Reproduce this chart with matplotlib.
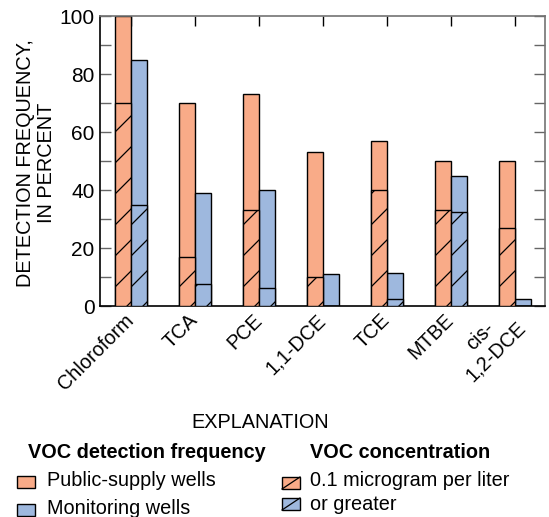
import numpy as np
import matplotlib
matplotlib.use('Agg')
import matplotlib.pyplot as plt
from matplotlib.patches import Rectangle
from matplotlib.lines import Line2D

plt.rcParams['font.family'] = ['Liberation Sans', 'DejaVu Sans']

compounds = ['Chloroform', 'TCA', 'PCE', '1,1-DCE', 'TCE', 'MTBE', 'cis-\n1,2-DCE']
# detection frequency, percent (all detections)
public_all = [100, 70, 73, 53, 57, 50, 50]
monitor_all = [85, 39, 40, 11, 11.3, 45, 2.5]
# detections at 0.1 microgram per liter or greater
public_hi = [70, 17, 33, 10, 40, 33, 27]
monitor_hi = [35, 7.5, 6.2, 0, 2.5, 32.5, 0]

orange = '#f9ab88'
blue = '#9eb8de'
W, H = 549, 517
fs = 14.3

fig = plt.figure(figsize=(W / 100, H / 100), dpi=100)
ax = fig.add_axes([100 / W, 1 - 306 / H, 445 / W, 290 / H])

x = np.arange(len(compounds))
bw = 0.25
xlim = (-0.485, 6.47)
ylim = (0, 100)
ax.set_xlim(*xlim)
ax.set_ylim(*ylim)

ax.bar(x - bw / 2, public_all, bw, color=orange, edgecolor='black', linewidth=1, zorder=2)
ax.bar(x + bw / 2, monitor_all, bw, color=blue, edgecolor='black', linewidth=1, zorder=2)
hp = ax.bar(x - bw / 2, public_hi, bw, color=orange, edgecolor='black', linewidth=1, zorder=3)
hm = ax.bar(x + bw / 2, monitor_hi, bw, color=blue, edgecolor='black', linewidth=1, zorder=3)

# sparse diagonal hatching, clipped to each bar
sx = 445 / (xlim[1] - xlim[0])   # px per x unit
sy = 290 / (ylim[1] - ylim[0])   # px per y unit
gap = 31 / sy
for p in list(hp) + list(hm):
    x0, w, h = p.get_x(), p.get_width(), p.get_height()
    if h <= 0:
        continue
    rise = w * sx / sy
    start = -rise + 4 / sy
    k = 0
    while start + k * gap < h:
        y0 = start + k * gap
        ln = Line2D([x0, x0 + w], [y0, y0 + rise], color='black', lw=0.9, zorder=4)
        ax.add_line(ln)
        ln.set_clip_path(p)
        k += 1

# ticks
ax.set_yticks(np.arange(0, 101, 20))
ax.set_yticks(np.arange(0, 101, 10), minor=True)
ax.tick_params(axis='y', which='both', direction='in', length=8, width=1,
               color='0.4', labelsize=15, right=True, pad=4)
ax.set_xticks(x)
ax.set_xticklabels(compounds, rotation=45, ha='right', va='center',
                   rotation_mode='anchor', multialignment='center', fontsize=fs)
ax.tick_params(axis='x', which='major', bottom=False, top=True, direction='in',
               length=7, width=1, color='black', pad=8)
for side in ('top', 'right'):
    ax.spines[side].set_color('0.45')
    ax.spines[side].set_linewidth(1.2)
for side in ('left', 'bottom'):
    ax.spines[side].set_color('black')
    ax.spines[side].set_linewidth(1.2)

fig.text(36 / W, 1 - 163 / H, 'DETECTION FREQUENCY,\nIN PERCENT', rotation=90,
         ha='center', va='center', fontsize=fs, linespacing=1.15)

# explanation
fig.text(260 / W, 1 - 422 / H, 'EXPLANATION', ha='center', va='center', fontsize=fs)
fig.text(28 / W, 1 - 452 / H, 'VOC detection frequency', ha='left', va='center',
         fontsize=fs, fontweight='bold')
fig.text(310 / W, 1 - 452 / H, 'VOC concentration', ha='left', va='center',
         fontsize=fs, fontweight='bold')

def key_box(px, py, color, hatched=False):
    r = Rectangle((px / W, 1 - (py + 12) / H), 18 / W, 12 / H, transform=fig.transFigure,
                  facecolor=color, edgecolor='black', linewidth=1)
    fig.patches.append(r)
    if hatched:
        fig.lines.append(Line2D([px / W, (px + 18) / W], [1 - (py + 12) / H, 1 - py / H],
                                transform=fig.transFigure, color='black', lw=0.9))

key_box(17, 476, orange)
key_box(17, 504, blue)
key_box(282, 477, orange, hatched=True)
key_box(282, 498, blue, hatched=True)
fig.text(47 / W, 1 - 481 / H, 'Public-supply wells', ha='left', va='center', fontsize=fs)
fig.text(47 / W, 1 - 509 / H, 'Monitoring wells', ha='left', va='center', fontsize=fs)
fig.text(310 / W, 1 - 481 / H, '0.1 microgram per liter', ha='left', va='center', fontsize=fs)
fig.text(310 / W, 1 - 505 / H, 'or greater', ha='left', va='center', fontsize=fs)

fig.savefig('out.png', dpi=100)
